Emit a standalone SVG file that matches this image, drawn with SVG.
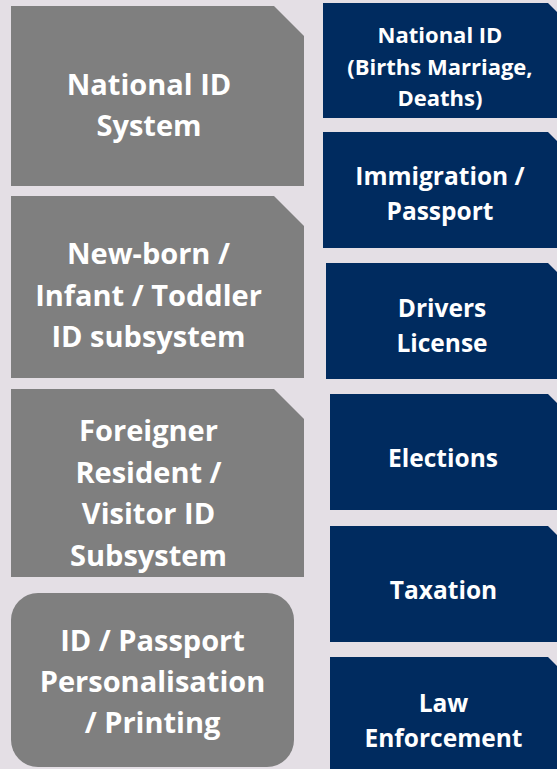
<svg xmlns="http://www.w3.org/2000/svg" width="557" height="769" viewBox="0 0 557 769">
<style>
.g{fill:#7f7f7f}
.b{fill:#002b5f}
text{font-family:"Open Sans","Liberation Sans",sans-serif;font-weight:bold;fill:#ffffff;text-anchor:middle}
.gt{font-size:29px}
.bt{font-size:24.5px}
.bs{font-size:22px}
</style>
<rect width="557" height="769" fill="#e4dfe5"/>
<g id="national-id-system">
<path class="g" d="M11 6H274L304 36V186H11Z"/>
<text class="gt" x="149" y="95">National ID</text>
<text class="gt" x="149" y="136">System</text>
</g>
<g id="newborn-id">
<path class="g" d="M11 196H274L304 226V378H11Z"/>
<text class="gt" x="148.5" y="264">New-born /</text>
<text class="gt" x="148.5" y="305.5">Infant / Toddler</text>
<text class="gt" x="148.5" y="347">ID subsystem</text>
</g>
<g id="foreigner-id">
<path class="g" d="M11 389H274L304 419V577H11Z"/>
<text class="gt" x="148.5" y="441">Foreigner</text>
<text class="gt" x="148.5" y="482.5">Resident /</text>
<text class="gt" x="148.5" y="524">Visitor ID</text>
<text class="gt" x="148.5" y="565.5">Subsystem</text>
</g>
<g id="personalisation">
<rect class="g" x="11" y="593" width="283" height="174" rx="27"/>
<text class="gt" x="152.5" y="651">ID / Passport</text>
<text class="gt" x="152.5" y="692">Personalisation</text>
<text class="gt" x="152.5" y="733">/ Printing</text>
</g>
<g id="national-id-bmd">
<path class="b" d="M323 3H548L578 33V118H323Z"/>
<text class="bs" x="440" y="43">National ID</text>
<text class="bs" x="440" y="75">(Births Marriage,</text>
<text class="bs" x="440" y="106">Deaths)</text>
</g>
<g id="immigration">
<path class="b" d="M323 132H548L578 162V248H323Z"/>
<text class="bt" x="440" y="185">Immigration /</text>
<text class="bt" x="440" y="220">Passport</text>
</g>
<g id="drivers-license">
<path class="b" d="M326 263H548L578 293V379H326Z"/>
<text class="bt" x="442" y="317">Drivers</text>
<text class="bt" x="442" y="352">License</text>
</g>
<g id="elections">
<path class="b" d="M330 394H548L578 424V510H330Z"/>
<text class="bt" x="443" y="467">Elections</text>
</g>
<g id="taxation">
<path class="b" d="M330 526H548L578 556V642H330Z"/>
<text class="bt" x="443.5" y="599">Taxation</text>
</g>
<g id="law-enforcement">
<path class="b" d="M330 657H548L578 687V773H330Z"/>
<text class="bt" x="443.5" y="712">Law</text>
<text class="bt" x="443.5" y="747">Enforcement</text>
</g>
<g id="connectors"></g>
</svg>
